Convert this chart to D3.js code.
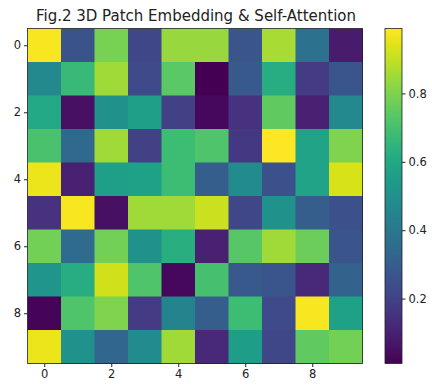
<!DOCTYPE html>
<html>
<head>
<meta charset="utf-8">
<script src="https://cdn.jsdelivr.net/npm/d3@7"></script>
<style>
  body { margin: 0; background: #fff; }
  text { font-family: "DejaVu Sans", sans-serif; fill: #222; }
  .tick line { stroke: #222; }
  .domain { display: none; }
</style>
</head>
<body>
<div id="chart"></div>
<script>
// attention weights, rows 0..9, columns 0..9
const rowLabels = d3.range(10);
const colLabels = d3.range(10);
const values = [
  [0.98, 0.26, 0.79, 0.22, 0.84, 0.84, 0.27, 0.86, 0.38, 0.08],
  [0.47, 0.67, 0.85, 0.23, 0.74, 0.01, 0.28, 0.62, 0.18, 0.27],
  [0.60, 0.05, 0.50, 0.56, 0.20, 0.03, 0.15, 0.75, 0.10, 0.47],
  [0.71, 0.34, 0.85, 0.20, 0.68, 0.72, 0.17, 0.99, 0.58, 0.80],
  [0.96, 0.10, 0.56, 0.57, 0.68, 0.30, 0.48, 0.25, 0.58, 0.93],
  [0.15, 0.98, 0.05, 0.85, 0.85, 0.91, 0.22, 0.50, 0.30, 0.25],
  [0.78, 0.35, 0.78, 0.50, 0.63, 0.10, 0.73, 0.85, 0.77, 0.27],
  [0.52, 0.62, 0.92, 0.72, 0.03, 0.70, 0.28, 0.27, 0.12, 0.32],
  [0.02, 0.72, 0.80, 0.18, 0.45, 0.30, 0.68, 0.23, 0.98, 0.57],
  [0.96, 0.50, 0.33, 0.48, 0.85, 0.12, 0.55, 0.22, 0.75, 0.78]
];
const axisTicks = [0, 2, 4, 6, 8];
const colorbarTicks = [0.2, 0.4, 0.6, 0.8];
const title = 'Fig.2 3D Patch Embedding & Self-Attention';

const width = 432, height = 386;
const margin = {top: 28.5, left: 27.5, size: 335};
const cbar = {x: 385, width: 17};

const svg = d3.select('#chart').append('svg')
    .attr('width', width)
    .attr('height', height);

const x = d3.scaleLinear().domain([-0.5, 9.5])
    .range([margin.left, margin.left + margin.size]);
const y = d3.scaleLinear().domain([-0.5, 9.5])
    .range([margin.top, margin.top + margin.size]);

const flat = values.flat();
const vmin = d3.min(flat), vmax = d3.max(flat);
const color = d3.scaleSequential(d3.interpolateViridis).domain([vmin, vmax]);

// cells
const cells = [];
rowLabels.forEach(r => colLabels.forEach(c => cells.push({r, c, v: values[r][c]})));

svg.append('g').selectAll('rect')
    .data(cells)
  .join('rect')
    .attr('x', d => x(d.c - 0.5))
    .attr('y', d => y(d.r - 0.5))
    .attr('width', x(1) - x(0) + 0.5)
    .attr('height', y(1) - y(0) + 0.5)
    .attr('fill', d => color(d.v));

svg.append('rect')
    .attr('x', margin.left).attr('y', margin.top)
    .attr('width', margin.size).attr('height', margin.size)
    .attr('fill', 'none').attr('stroke', '#222').attr('stroke-width', 0.8);

// axes
svg.append('g')
    .attr('transform', `translate(0,${margin.top + margin.size})`)
    .call(d3.axisBottom(x).tickValues(axisTicks).tickSize(3.5).tickPadding(3))
    .call(g => g.selectAll('text').attr('font-size', 11.5));

svg.append('g')
    .attr('transform', `translate(${margin.left},0)`)
    .call(d3.axisLeft(y).tickValues(axisTicks).tickSize(3.5).tickPadding(3))
    .call(g => g.selectAll('text').attr('font-size', 11.5));

svg.append('text')
    .attr('x', margin.left + margin.size / 2 + 1)
    .attr('y', 21)
    .attr('text-anchor', 'middle')
    .attr('font-size', 15)
    .text(title);

// colorbar
const cy = d3.scaleLinear().domain([vmin, vmax])
    .range([margin.top + margin.size, margin.top]);

const grad = svg.append('defs').append('linearGradient')
    .attr('id', 'cbar-gradient')
    .attr('x1', 0).attr('y1', 1).attr('x2', 0).attr('y2', 0);

grad.selectAll('stop')
    .data(d3.range(0, 1.001, 0.05))
  .join('stop')
    .attr('offset', d => d)
    .attr('stop-color', d => d3.interpolateViridis(d));

svg.append('rect')
    .attr('x', cbar.x).attr('y', margin.top)
    .attr('width', cbar.width).attr('height', margin.size)
    .attr('fill', 'url(#cbar-gradient)')
    .attr('stroke', '#222').attr('stroke-width', 0.8);

svg.append('g')
    .attr('transform', `translate(${cbar.x + cbar.width},0)`)
    .call(d3.axisRight(cy).tickValues(colorbarTicks).tickFormat(d3.format('.1f')).tickSize(3.5).tickPadding(3))
    .call(g => g.selectAll('text').attr('font-size', 11.5));
</script>
</body>
</html>
